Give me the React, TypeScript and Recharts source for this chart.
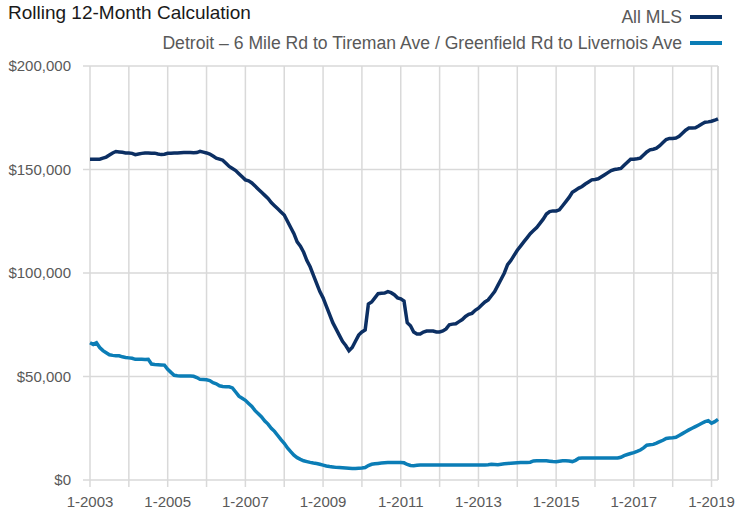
import React from "react";
import { LineChart, Line, XAxis, YAxis, CartesianGrid, ReferenceLine } from "recharts";

// monthly values in $ thousands, 1-2003 through 3-2019
const startYear = 2003;

const allMls = [
  155, 155, 155, 155, 155.5, 156, 157, 158, 158.7, 158.5, 158.3, 158,
  158, 157.8, 157.2, 157.5, 157.8, 158, 158, 157.8, 157.9, 157.5, 157.2, 157.4,
  157.8, 157.9, 158, 158, 158.1, 158.2, 158.2, 158.2, 158.1, 158.2, 158.8, 158.4,
  158, 157.5, 156.5, 155.5, 155, 154.5, 153, 151.5, 150.5, 149.5, 148, 146.5,
  145, 144.5, 143.5, 142, 140.5, 139, 137.5, 136, 134, 132.5, 131, 129.5,
  128, 125, 122, 119, 115, 113, 110, 106, 103, 99, 95, 91,
  88, 84, 80, 76, 73, 70, 67, 65, 62.5, 64, 67, 70,
  71.5, 72.5, 85, 86, 88, 90, 90.2, 90.3, 91, 90.5, 89.5, 88,
  87.5, 86.5, 76, 74.5, 71.5, 70.5, 70.5, 71.5, 72, 72, 72, 71.5,
  71.5, 72, 73, 75, 75.3, 75.5, 76.5, 77.5, 79, 80, 80.5, 82,
  83, 84.5, 86, 87, 89, 91, 94, 97, 100, 104, 106, 108.5,
  111, 113, 115, 117, 119, 120.5, 122, 124, 126, 128.5, 129.7, 130,
  130, 130.5, 132.5, 134.5, 136.5, 139, 140, 141, 141.8, 143, 144, 145,
  145.2, 145.5, 146.5, 147.5, 148.5, 149.5, 150, 150.2, 150.5, 152, 153.5, 155,
  155, 155.2, 155.5, 157, 158.5, 159.5, 159.8, 160.3, 161.5, 163, 164.5, 165,
  165, 165.2, 166, 167.5, 169, 170, 170, 170.2, 171, 172, 172.8, 173,
  173.3, 173.8, 174.5,
];

const detroit = [
  66.3, 65.5, 66.3, 64, 62.5, 61.5, 60.5, 60.2, 60, 60, 59.5, 59.2,
  59, 58.8, 58.3, 58.3, 58.3, 58.2, 58.3, 56, 55.8, 55.7, 55.6, 55.5,
  53.5, 52, 50.6, 50.4, 50.3, 50.2, 50.2, 50.2, 50.1, 49.5, 48.6, 48.5,
  48.4, 48, 47, 46.5, 45.5, 45.2, 45, 45, 44.5, 42.5, 40.5, 39.5,
  38.5, 37, 35.5, 33.5, 32, 30.5, 28.5, 27, 25, 23.5, 21.5, 19.5,
  17.7, 15.5, 13.7, 12, 10.8, 10, 9.3, 8.9, 8.5, 8.2, 8, 7.6,
  7.2, 6.8, 6.5, 6.3, 6.1, 6, 5.9, 5.8, 5.7, 5.6, 5.6, 5.7,
  5.8, 6, 7, 7.6, 7.8, 8, 8.2, 8.3, 8.4, 8.4, 8.4, 8.4,
  8.5, 8.3, 7.5, 7, 6.9, 7.1, 7.2, 7.3, 7.3, 7.3, 7.3, 7.3,
  7.3, 7.3, 7.3, 7.3, 7.3, 7.3, 7.2, 7.2, 7.2, 7.2, 7.2, 7.2,
  7.2, 7.2, 7.3, 7.4, 7.6, 7.5, 7.4, 7.6, 7.8, 8, 8.1, 8.2,
  8.3, 8.4, 8.4, 8.5, 8.6, 9.2, 9.3, 9.3, 9.3, 9.3, 9.1, 8.9,
  8.8, 9.1, 9.3, 9.3, 9.2, 8.9, 9.5, 10.5, 10.6, 10.6, 10.6, 10.6,
  10.6, 10.6, 10.6, 10.6, 10.6, 10.6, 10.6, 10.6, 11, 11.8, 12.3, 12.8,
  13.2, 13.8, 14.5, 15.5, 16.8, 17, 17.2, 17.8, 18.5, 19.2, 20.1, 20.3,
  20.4, 20.6, 21.5, 22.4, 23.3, 24.2, 25, 25.8, 26.6, 27.4, 28.2, 28.7,
  27.4, 28.2, 29.3,
];

const yearTicks = [0, 12, 24, 36, 48, 60, 72, 84, 96, 108, 120, 132, 144, 156, 168, 180, 192];
const yTicks = [0, 50000, 100000, 150000, 200000];

const data = allMls.map((v, i) => ({
  month: i,
  allMls: v * 1000,
  detroit: detroit[i] * 1000,
}));

const lastMonth = data.length - 1;
const font = "'Liberation Sans', Arial, sans-serif";
const grey = "#d9d9d9";
const navy = "#0c2f63";
const teal = "#0b7db6";

const fmtX = (m: number) => (m % 24 === 0 ? `1-${startYear + m / 12}` : "");
const fmtY = (v: number) => "$" + v.toLocaleString("en-US");

const LegendRow = ({ label, color }: { label: string; color: string }) => (
  <div style={{ display: "flex", alignItems: "center", justifyContent: "flex-end", height: 26 }}>
    <span>{label}</span>
    <span style={{ display: "inline-block", width: 32, height: 4, background: color, marginLeft: 8 }} />
  </div>
);

export default function App() {
  return (
    <div style={{ position: "absolute", left: 0, top: 0, width: 736, height: 515, background: "#fff", fontFamily: font }}>
      <div style={{ position: "absolute", left: 8, top: 2, fontSize: 19, color: "#1a1a1a" }}>
        Rolling 12-Month Calculation
      </div>
      <div style={{ position: "absolute", right: 14, top: 4, fontSize: 17.6, color: "#595959" }}>
        <LegendRow label="All MLS" color={navy} />
        <LegendRow label="Detroit – 6 Mile Rd to Tireman Ave / Greenfield Rd to Livernois Ave" color={teal} />
      </div>
      <LineChart width={736} height={515} data={data} margin={{ top: 66, right: 18, bottom: 0, left: 0 }}>
        <CartesianGrid stroke={grey} strokeWidth={1.5} />
        <XAxis
          dataKey="month"
          type="number"
          domain={[0, lastMonth]}
          ticks={yearTicks}
          tickFormatter={fmtX}
          interval={0}
          height={35}
          axisLine={false}
          tickLine={{ stroke: grey, strokeWidth: 1.5 }}
          tickSize={7}
          tickMargin={9}
          tick={{ fill: "#595959", fontSize: 15, fontFamily: font }}
        />
        <YAxis
          type="number"
          domain={[0, 200000]}
          ticks={yTicks}
          tickFormatter={fmtY}
          width={90}
          axisLine={false}
          tickLine={{ stroke: grey, strokeWidth: 1.5 }}
          tickSize={7}
          tickMargin={12}
          tick={{ fill: "#595959", fontSize: 15, fontFamily: font }}
        />
        <ReferenceLine x={lastMonth} stroke={grey} strokeWidth={1.5} />
        <Line dataKey="detroit" stroke={teal} strokeWidth={3.5} dot={false} isAnimationActive={false} />
        <Line dataKey="allMls" stroke={navy} strokeWidth={3.5} dot={false} isAnimationActive={false} />
      </LineChart>
    </div>
  );
}
